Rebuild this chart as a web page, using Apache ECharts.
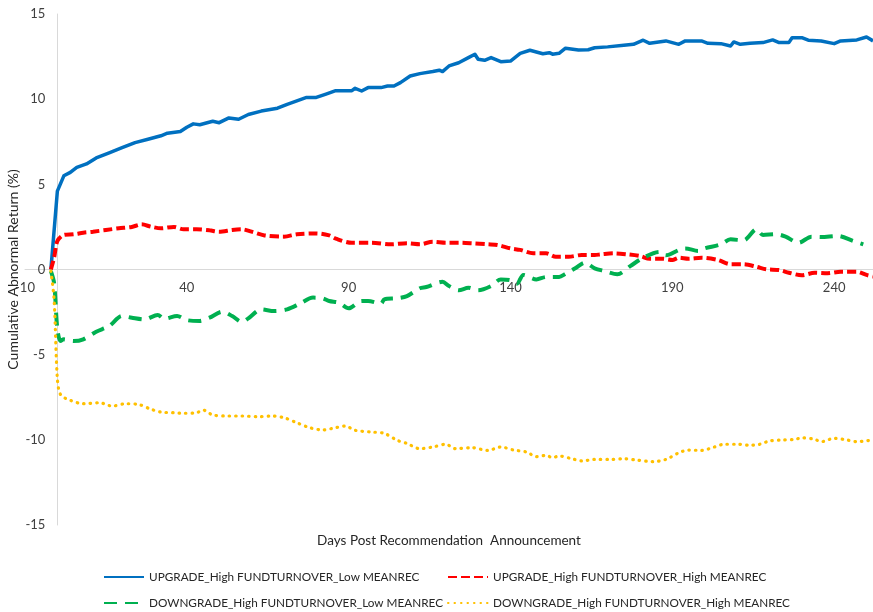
<!DOCTYPE html>
<html>
<head>
<meta charset="UTF-8">
<title>Cumulative Abnormal Return</title>
<script src="https://cdn.jsdelivr.net/npm/echarts@6/dist/echarts.min.js"></script>
<style>
  html, body { margin: 0; padding: 0; background: #fff; }
  #main { width: 873px; height: 612px; }
</style>
</head>
<body>
<div id="main"></div>
<script>
// series names
var names = [
  'UPGRADE_High FUNDTURNOVER_Low MEANREC',
  'UPGRADE_High FUNDTURNOVER_High MEANREC',
  'DOWNGRADE_High FUNDTURNOVER_Low MEANREC',
  'DOWNGRADE_High FUNDTURNOVER_High MEANREC'
];

// x axis tick labels (days)
var xTicks = [-10, 40, 90, 140, 190, 240];

// UPGRADE_High FUNDTURNOVER_Low MEANREC
var upLowDays = [-2, 0, 2, 4, 6, 9, 12, 16, 20, 24, 28, 32, 34, 38, 40, 42, 44, 48, 50, 53,
  56, 59, 63, 68, 71, 74, 77, 80, 83, 86, 91, 92, 94, 96, 100, 102, 104, 106, 109, 112,
  116, 118, 119, 121, 124, 127, 129, 130, 132, 134, 137, 140, 143, 146, 150, 152, 153, 155, 157, 161,
  164, 166, 170, 175, 178, 181, 183, 188, 192, 194, 199, 201, 205, 208, 209, 211, 214, 218, 221, 223,
  226, 227, 230, 232, 236, 240, 242, 247, 250, 252];
var upLowVals = [0, 4.6, 5.5, 5.7, 6.0, 6.2, 6.55, 6.85, 7.15, 7.45, 7.65, 7.85, 8.0, 8.1, 8.35, 8.55, 8.5, 8.7, 8.62, 8.9,
  8.82, 9.1, 9.3, 9.47, 9.7, 9.9, 10.1, 10.1, 10.3, 10.5, 10.5, 10.64, 10.48, 10.68, 10.68, 10.77, 10.77, 10.97, 11.36, 11.5,
  11.62, 11.7, 11.62, 11.95, 12.14, 12.44, 12.64, 12.34, 12.28, 12.44, 12.2, 12.24, 12.69, 12.87, 12.67, 12.73, 12.64, 12.69, 12.99, 12.89,
  12.9, 13.02, 13.07, 13.16, 13.22, 13.46, 13.28, 13.42, 13.22, 13.42, 13.42, 13.28, 13.26, 13.12, 13.36, 13.22, 13.28, 13.32, 13.48, 13.32,
  13.32, 13.61, 13.61, 13.46, 13.42, 13.26, 13.42, 13.48, 13.65, 13.42];

// UPGRADE_High FUNDTURNOVER_High MEANREC
var upHighDays = [-2, -1, 0, 2, 5, 8, 11, 15, 19, 23, 26, 29, 32, 36, 39, 43, 47, 50, 54, 57,
  60, 64, 70, 74, 80, 84, 86, 91, 97, 103, 108, 112, 116, 120, 124, 128, 133, 136, 140, 143,
  147, 151, 154, 158, 162, 166, 168, 172, 176, 180, 183, 187, 190, 192, 195, 199, 204, 208, 212, 216,
  219, 223, 226, 230, 234, 238, 242, 247, 250, 252];
var upHighVals = [0, 0.7, 1.67, 2.03, 2.07, 2.16, 2.22, 2.32, 2.42, 2.5, 2.65, 2.51, 2.42, 2.5, 2.36, 2.36, 2.3, 2.22, 2.32, 2.36,
  2.22, 2.0, 1.93, 2.07, 2.12, 2.0, 1.81, 1.57, 1.57, 1.48, 1.54, 1.48, 1.63, 1.57, 1.57, 1.54, 1.48, 1.44, 1.24, 1.15,
  0.95, 0.95, 0.75, 0.75, 0.85, 0.85, 0.89, 0.95, 0.89, 0.79, 0.63, 0.63, 0.56, 0.69, 0.63, 0.69, 0.56, 0.31, 0.31, 0.16,
  0.01, -0.03, -0.19, -0.34, -0.19, -0.22, -0.13, -0.13, -0.32, -0.42];

// DOWNGRADE_High FUNDTURNOVER_Low MEANREC
var downLowDays = [-2, -1, 0, 1, 2, 5, 8, 12, 16, 20, 23, 27, 31, 33, 37, 40, 44, 47, 51, 54,
  57, 59, 63, 67, 71, 75, 79, 82, 84, 87, 90, 94, 96, 100, 101, 105, 108, 112, 114, 119,
  121, 124, 127, 130, 134, 137, 140, 142, 144, 148, 151, 155, 157, 160, 163, 166, 169, 173, 177, 181,
  186, 188, 192, 194, 198, 200, 205, 208, 212, 216, 218, 222, 225, 229, 233, 236, 241, 246, 249];
var downLowVals = [-0.09, -0.8, -3.5, -4.2, -4.1, -4.2, -4.1, -3.65, -3.32, -2.73, -2.83, -2.93, -2.67, -2.89, -2.73, -2.97, -3.02, -2.83, -2.48, -2.73,
  -3.08, -2.87, -2.34, -2.44, -2.34, -2.0, -1.65, -1.69, -1.85, -1.95, -2.28, -1.85, -1.85, -2.0, -1.75, -1.69, -1.56, -1.1, -1.03, -0.72,
  -0.97, -1.22, -1.07, -1.22, -0.97, -0.58, -0.63, -0.83, -0.32, -0.58, -0.44, -0.44, -0.25, 0.07, 0.4, 0.07, -0.09, -0.28, 0.2, 0.69,
  1.03, 0.83, 1.14, 1.24, 1.09, 1.24, 1.48, 1.77, 1.71, 2.36, 2.03, 2.07, 1.93, 1.57, 1.93, 1.91, 1.97, 1.67, 1.48];

// DOWNGRADE_High FUNDTURNOVER_High MEANREC
var downHighDays = [-2, -1, 0, 1, 4, 8, 13, 17, 21, 25, 29, 32, 36, 39, 43, 45, 48, 53, 57, 62,
  66, 70, 74, 78, 82, 85, 89, 92, 97, 101, 105, 108, 112, 116, 120, 123, 128, 133, 137, 141,
  145, 148, 151, 153, 155, 159, 162, 166, 171, 175, 179, 184, 188, 192, 195, 199, 203, 206, 210, 214,
  217, 220, 224, 228, 230, 234, 236, 240, 244, 247, 251];
var downHighVals = [-0.09, -1.8, -6.4, -7.35, -7.68, -7.88, -7.82, -8.02, -7.88, -7.92, -8.21, -8.37, -8.41, -8.44, -8.41, -8.25, -8.54, -8.6, -8.6, -8.64,
  -8.6, -8.7, -9.0, -9.29, -9.42, -9.33, -9.19, -9.44, -9.54, -9.62, -10.03, -10.21, -10.52, -10.42, -10.26, -10.52, -10.46, -10.62, -10.42, -10.6,
  -10.72, -10.99, -10.91, -11.05, -10.95, -11.11, -11.24, -11.15, -11.15, -11.11, -11.19, -11.28, -11.15, -10.76, -10.6, -10.62, -10.42, -10.26, -10.26, -10.32,
  -10.26, -10.07, -10.01, -9.97, -9.88, -9.97, -10.11, -9.91, -10.01, -10.11, -10.03];

function pairs(days, vals) {
  return days.map(function (d, i) { return [d, vals[i]]; });
}

var font = 'Lato, "Open Sans", sans-serif';
var chart = echarts.init(document.getElementById('main'));

// one legend box per entry, laid out as 2 x 2
function legendAt(name, left, top) {
  return {
    data: [name],
    left: left, top: top,
    itemWidth: 40, itemHeight: 12,
    itemStyle: { opacity: 0 },
    textStyle: { fontFamily: font, fontSize: 11.75, color: '#262626' }
  };
}

// grid box: x from 25 to 873, y from 14 to 525
var option = {
  animation: false,
  grid: { left: 25, right: 0, top: 14, bottom: 87, containLabel: false, outerBoundsMode: 'none' },
  xAxis: {
    type: 'value',
    min: -10,
    max: 252,
    interval: 50,
    // axis drawn at y = 0 (middle of the grid)
    offset: -255.5,
    name: 'Days Post Recommendation  Announcement',
    nameLocation: 'middle',
    nameGap: 264,
    nameMoveOverlap: false,
    nameTextStyle: { fontFamily: font, fontSize: 13.5, color: '#262626' },
    axisLine: { onZero: false, lineStyle: { color: '#d9d9d9', width: 1 } },
    axisTick: { show: false },
    splitLine: { show: false },
    axisLabel: {
      fontFamily: font, fontSize: 13, color: '#404040', margin: 12,
      showMaxLabel: false,
      formatter: function (v) { return xTicks.indexOf(v) >= 0 ? String(v) : ''; }
    }
  },
  yAxis: {
    type: 'value',
    min: -15,
    max: 15,
    interval: 5,
    // axis drawn at day 0
    offset: -32.4,
    name: 'Cumulative Abnormal Return (%)',
    nameLocation: 'middle',
    nameGap: 37,
    nameMoveOverlap: false,
    nameTextStyle: { fontFamily: font, fontSize: 14, color: '#262626' },
    axisLine: { onZero: false, lineStyle: { color: '#d9d9d9', width: 1 } },
    axisTick: { show: false },
    splitLine: { show: false },
    axisLabel: { fontFamily: font, fontSize: 13, color: '#404040', margin: 12 }
  },
  legend: [
    legendAt(names[0], 98, 566),
    legendAt(names[1], 442, 566),
    legendAt(names[2], 98, 592),
    legendAt(names[3], 442, 592)
  ],
  series: [
    {
      name: names[0], type: 'line', showSymbol: false, symbol: 'none',
      data: pairs(upLowDays, upLowVals),
      lineStyle: { color: '#0070C0', width: 3.5, join: 'round' },
      itemStyle: { color: '#0070C0' }
    },
    {
      name: names[1], type: 'line', showSymbol: false, symbol: 'none', smooth: 0.3,
      data: pairs(upHighDays, upHighVals),
      lineStyle: { color: '#FF0000', width: 4, type: [9, 4] },
      itemStyle: { color: '#FF0000' }
    },
    {
      name: names[2], type: 'line', showSymbol: false, symbol: 'none', smooth: 0.3,
      data: pairs(downLowDays, downLowVals),
      lineStyle: { color: '#00B050', width: 4, type: [13, 8] },
      itemStyle: { color: '#00B050' }
    },
    {
      name: names[3], type: 'line', showSymbol: false, symbol: 'none', smooth: 0.3,
      data: pairs(downHighDays, downHighVals),
      lineStyle: { color: '#FFC000', width: 3.2, type: [0.5, 6], cap: 'round' },
      itemStyle: { color: '#FFC000' }
    }
  ]
};

chart.setOption(option);
</script>
</body>
</html>
